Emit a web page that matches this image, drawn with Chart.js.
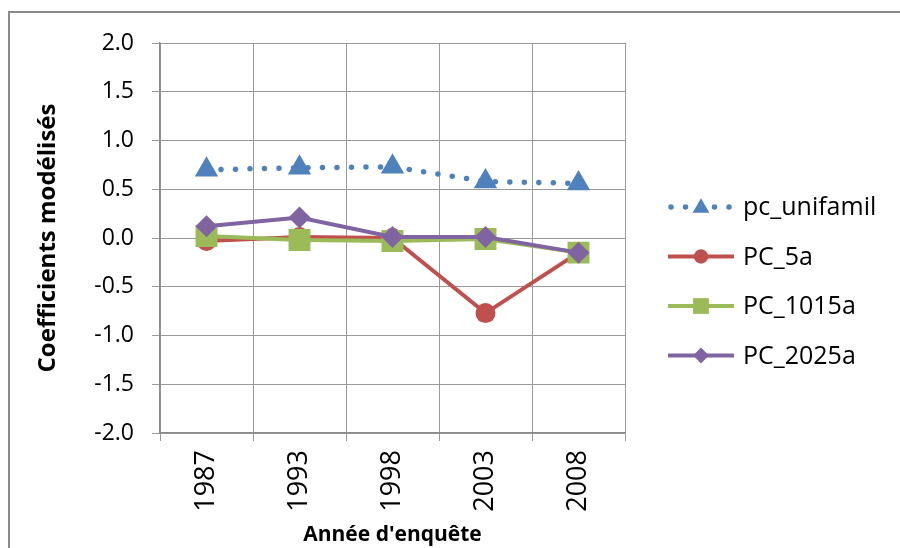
<!DOCTYPE html>
<html>
<head>
<meta charset="utf-8">
<script src="https://cdn.jsdelivr.net/npm/chart.js@4/dist/chart.umd.min.js"></script>
<style>
	html, body { margin: 0; padding: 0; background: #fff; overflow: hidden; width: 900px; height: 548px; }
	#cadre { position: absolute; left: 8px; top: 11px; width: 1000px; height: 700px;
		border-left: 2px solid #8a8a8a; border-top: 2px solid #8a8a8a; }
	#zone { position: absolute; left: 0; top: 0; width: 900px; height: 548px; }
</style>
</head>
<body>
<div id="cadre"></div>
<div id="zone"><canvas id="graf" width="900" height="548"></canvas></div>
<script>
// DONNEES
let annees = ['1987', '1993', '1998', '2003', '2008'];
let pcUnifamil = [0.70, 0.72, 0.73, 0.58, 0.56];
let pc5a = [-0.03, 0.01, 0.00, -0.77, -0.15];
let pc1015a = [0.02, -0.02, -0.03, -0.01, -0.15];
let pc2025a = [0.12, 0.21, 0.01, 0.01, -0.15];
let nomsSeries = ['pc_unifamil', 'PC_5a', 'PC_1015a', 'PC_2025a'];

let police = "'Open Sans', sans-serif";

// legende dessinee a la main (ligne + marqueur)
const legendeExcel = {
	id: 'legendeExcel',
	afterDraw(chart) {
		let ctx = chart.ctx;
		let x0 = chart.chartArea.right + 43;
		let y0 = 207;
		chart.data.datasets.forEach((ds, i) => {
			let y = y0 + i * 49.5;
			ctx.save();
			ctx.strokeStyle = ds.borderColor;
			ctx.lineWidth = ds.borderWidth;
			ctx.lineCap = ds.borderCapStyle || 'butt';
			ctx.setLineDash(ds.borderDash || []);
			ctx.beginPath();
			ctx.moveTo(x0 + (ds.borderDash ? 3 : 0), y);
			ctx.lineTo(x0 + 66, y);
			ctx.stroke();
			ctx.setLineDash([]);
			ctx.fillStyle = ds.pointBackgroundColor;
			Chart.helpers.drawPoint(ctx, {
				pointStyle: ds.pointStyle,
				rotation: 0,
				radius: ds.pointRadius * 0.72,
				borderWidth: 0
			}, x0 + 33, y + (ds.pointStyle === 'triangle' ? 1 : 0));
			ctx.fillStyle = '#000';
			ctx.font = '25px ' + police;
			ctx.textBaseline = 'middle';
			ctx.fillText(nomsSeries[i], x0 + 75, y + 1);
			ctx.restore();
		});
	}
};

let serie = (data, nom, couleur, forme, rayon, extra) => Object.assign({
	label: nom,
	data: data,
	borderColor: couleur,
	backgroundColor: couleur,
	pointBackgroundColor: couleur,
	pointBorderWidth: 0,
	pointStyle: forme,
	pointRadius: rayon,
	pointHoverRadius: rayon,
	borderWidth: 4,
	tension: 0
}, extra || {});

const config = {
	type: 'line',
	data: {
		labels: annees,
		datasets: [
			serie(pcUnifamil, nomsSeries[0], '#4f81bd', 'triangle', 13.5, {
				borderWidth: 5.5, borderDash: [0, 14.5], borderCapStyle: 'round', order: 4
			}),
			serie(pc5a, nomsSeries[1], '#c0504d', 'circle', 10, {order: 3}),
			serie(pc1015a, nomsSeries[2], '#9bbb59', 'rect', 15.5, {order: 2}),
			serie(pc2025a, nomsSeries[3], '#8064a2', 'rectRot', 11, {order: 1})
		]
	},
	options: {
		responsive: false,
		animation: false,
		events: [],
		layout: { padding: { left: 0, right: 275, top: 43, bottom: 0 } },
		plugins: { legend: { display: false }, tooltip: { enabled: false } },
		scales: {
			x: {
				offset: true,
				grid: { offset: true, color: '#9a9a9a', lineWidth: 1, tickLength: 8, drawTicks: true },
				border: { color: '#8a8a8a', width: 1.5 },
				ticks: { color: '#000', font: { family: police, size: 27 }, minRotation: 90, maxRotation: 90, padding: 9 },
				title: { display: true, text: "Année d'enquête", color: '#000',
					font: { family: police, size: 21, weight: 'bold' }, padding: { top: 0, bottom: 0 } },
				afterFit: s => { s.height = 115; }
			},
			y: {
				min: -2, max: 2,
				grid: { color: '#9a9a9a', lineWidth: 1, tickLength: 8 },
				border: { color: '#8a8a8a', width: 1.5 },
				ticks: { stepSize: 0.5, color: '#000', font: { family: police, size: 23 }, padding: 18,
					callback: v => v.toFixed(1) },
				title: { display: true, text: 'Coefficients modélisés', color: '#000',
					font: { family: police, size: 24, weight: 'bold' }, padding: { top: 34, bottom: 0 } },
				afterFit: s => { s.width = 160; }
			}
		}
	},
	plugins: [legendeExcel]
};

const monGraf = new Chart(document.getElementById('graf'), config);
</script>
</body>
</html>
